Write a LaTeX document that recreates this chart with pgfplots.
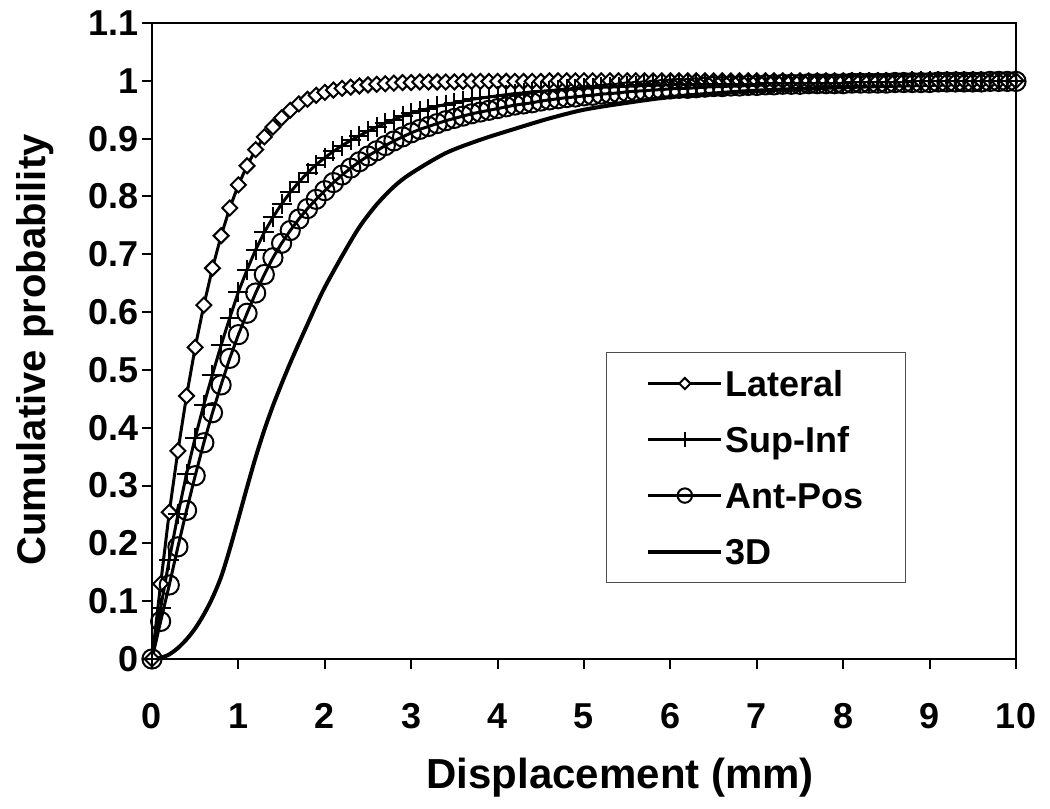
\documentclass[border=0pt]{standalone}
\usepackage{pgfplots}
\pgfplotsset{compat=1.18}
\usepackage{pgfplotstable}
\usepackage{fontspec}
\setmainfont{Liberation Sans}

% cumulative probability per direction, read every 0.1 mm
\pgfplotstableread{
x    lat   sup   ant
0.0  0     0     0
0.1  0.130 0.088 0.065
0.2  0.254 0.172 0.128
0.3  0.360 0.250 0.194
0.4  0.455 0.320 0.257
0.5  0.539 0.383 0.317
0.6  0.612 0.440 0.374
0.7  0.676 0.492 0.426
0.8  0.732 0.543 0.474
0.9  0.780 0.590 0.520
1.0  0.820 0.635 0.561
1.1  0.853 0.673 0.598
1.2  0.881 0.708 0.633
1.3  0.903 0.738 0.665
1.4  0.920 0.764 0.694
1.5  0.936 0.787 0.719
1.6  0.949 0.807 0.741
1.7  0.960 0.825 0.761
1.8  0.968 0.841 0.779
1.9  0.975 0.855 0.795
2.0  0.980 0.867 0.810
2.1  0.984 0.878 0.824
2.2  0.987 0.888 0.837
2.3  0.989 0.897 0.849
2.4  0.991 0.905 0.860
2.5  0.993 0.913 0.870
2.6  0.994 0.920 0.879
2.7  0.995 0.927 0.888
2.8  0.996 0.933 0.896
2.9  0.997 0.939 0.903
3.0  0.997 0.944 0.910
3.1  0.998 0.948 0.916
3.2  0.998 0.952 0.921
3.3  0.998 0.956 0.926
3.4  0.998 0.959 0.931
3.5  0.998 0.962 0.935
3.6  0.999 0.965 0.939
3.7  0.999 0.968 0.943
3.8  0.999 0.970 0.946
3.9  0.999 0.972 0.949
4.0  0.999 0.974 0.952
4.1  0.999 0.976 0.955
4.2  0.999 0.978 0.958
4.3  0.999 0.979 0.960
4.4  0.999 0.981 0.962
4.5  0.999 0.982 0.965
4.6  1.000 0.983 0.967
4.7  1.000 0.984 0.969
4.8  1.000 0.985 0.971
4.9  1.000 0.986 0.972
5.0  1.000 0.987 0.974
5.1  1.000 0.988 0.975
5.2  1.000 0.989 0.977
5.3  1.000 0.989 0.978
5.4  1.000 0.990 0.979
5.5  1.000 0.991 0.981
5.6  1.000 0.991 0.982
5.7  1.000 0.992 0.983
5.8  1.000 0.992 0.984
5.9  1.000 0.993 0.985
6.0  1.000 0.993 0.986
6.1  1.000 0.994 0.987
6.2  1.000 0.994 0.987
6.3  1.000 0.994 0.988
6.4  1.000 0.994 0.989
6.5  1.000 0.994 0.990
6.6  1.000 0.995 0.990
6.7  1.000 0.995 0.991
6.8  1.000 0.995 0.991
6.9  1.000 0.995 0.992
7.0  1.000 0.995 0.992
7.1  1.000 0.996 0.993
7.2  1.000 0.996 0.993
7.3  1.000 0.996 0.994
7.4  1.000 0.996 0.994
7.5  1.000 0.996 0.994
7.6  1.000 0.997 0.995
7.7  1.000 0.997 0.995
7.8  1.000 0.997 0.995
7.9  1.000 0.997 0.995
8.0  1.000 0.997 0.995
8.1  1.000 0.998 0.996
8.2  1.000 0.998 0.996
8.3  1.000 0.998 0.996
8.4  1.000 0.998 0.996
8.5  1.000 0.998 0.996
8.6  1.000 0.998 0.997
8.7  1.000 0.998 0.997
8.8  1.000 0.999 0.997
8.9  1.000 0.999 0.997
9.0  1.000 0.999 0.997
9.1  1.000 0.999 0.998
9.2  1.000 0.999 0.998
9.3  1.000 0.999 0.998
9.4  1.000 0.999 0.998
9.5  1.000 0.999 0.998
9.6  1.000 1.000 0.998
9.7  1.000 1.000 0.999
9.8  1.000 1.000 0.999
9.9  1.000 1.000 0.999
10.0 1.000 1.000 0.999
}\margins

% 3D vector
\pgfplotstableread{
x    d
0.0  0
0.1  0.002
0.2  0.008
0.3  0.019
0.4  0.034
0.5  0.053
0.6  0.077
0.7  0.106
0.8  0.142
0.9  0.190
1.0  0.243
1.1  0.297
1.2  0.349
1.3  0.396
1.4  0.438
1.5  0.476
1.6  0.512
1.7  0.546
1.8  0.579
1.9  0.612
2.0  0.643
2.2  0.697
2.4  0.747
2.6  0.786
2.8  0.817
3.0  0.840
3.4  0.875
3.8  0.898
4.2  0.917
4.6  0.935
5.0  0.950
5.5  0.962
6.0  0.972
6.5  0.978
7.0  0.983
8.0  0.989
9.0  0.993
10.0 0.996
}\threed

\begin{document}
\begin{tikzpicture}
\begin{axis}[
  at={(0,0)}, anchor=south west,
  scale only axis, width=432bp, height=318bp,
  xmin=0, xmax=10, ymin=0, ymax=1.1,
  xtick={0,1,2,3,4,5,6,7,8,9,10},
  ytick={0,0.1,0.2,0.3,0.4,0.5,0.6,0.7,0.8,0.9,1,1.1},
  tick align=outside, tick pos=left,
  major tick length=5bp,
  tick style={black, line width=1bp},
  axis line style={black, line width=1bp},
  /pgf/number format/assume math mode=true,
  ticklabel style={font=\bfseries\fontsize{18bp}{20bp}\selectfont},
  yticklabel style={inner xsep=1.5bp},
  xticklabel style={inner ysep=0pt, yshift=-17bp},
  xlabel={Displacement (mm)},
  ylabel={Cumulative probability},
  label style={font=\bfseries\fontsize{20bp}{22bp}\selectfont},
  xlabel style={at={(axis description cs:0.542,-0.186)}, anchor=center,
    font=\bfseries\fontsize{21bp}{23bp}\selectfont},
  ylabel style={at={(axis description cs:-0.135,0.486)}, anchor=center},
  clip=false,
  legend cell align=left,
  legend image code/.code={
    \draw[mark repeat=2, mark phase=2, #1] plot coordinates {(0bp,0bp) (18.25bp,0bp) (36.5bp,0bp)};
  },
  legend image post style={every mark/.append style={scale=0.75}},
  legend style={at={(axis description cs:0.525,0.483)}, anchor=north west,
    draw=black!70, line width=0.75bp, inner xsep=20bp, inner ysep=8bp,
    row sep=13bp,
    font=\bfseries\fontsize{18bp}{20bp}\selectfont,
    nodes={inner sep=1bp, text height=13bp, text depth=0bp}},
]
\addplot[black, line width=1.5bp, mark=square*, mark size=2.65bp,
  mark options={rotate=45, fill=white, line width=1bp}]
  table[x=x, y=lat] {\margins};
\addlegendentry{Lateral}
\addplot[black, line width=1.5bp, mark=+, mark size=5bp,
  mark options={line width=1bp}]
  table[x=x, y=sup] {\margins};
\addlegendentry{Sup-Inf}
\addplot[black, line width=1.5bp, mark=o, mark size=4.8bp,
  mark options={line width=1bp}]
  table[x=x, y=ant] {\margins};
\addlegendentry{Ant-Pos}
\addplot[black, line width=2bp, smooth, tension=0.5, no markers]
  table[x=x, y=d] {\threed};
\addlegendentry{3D}
\end{axis}
\pgfresetboundingbox
\path[use as bounding box] (-76bp,-75bp) rectangle (449bp,329.5bp);
\end{tikzpicture}
\end{document}
